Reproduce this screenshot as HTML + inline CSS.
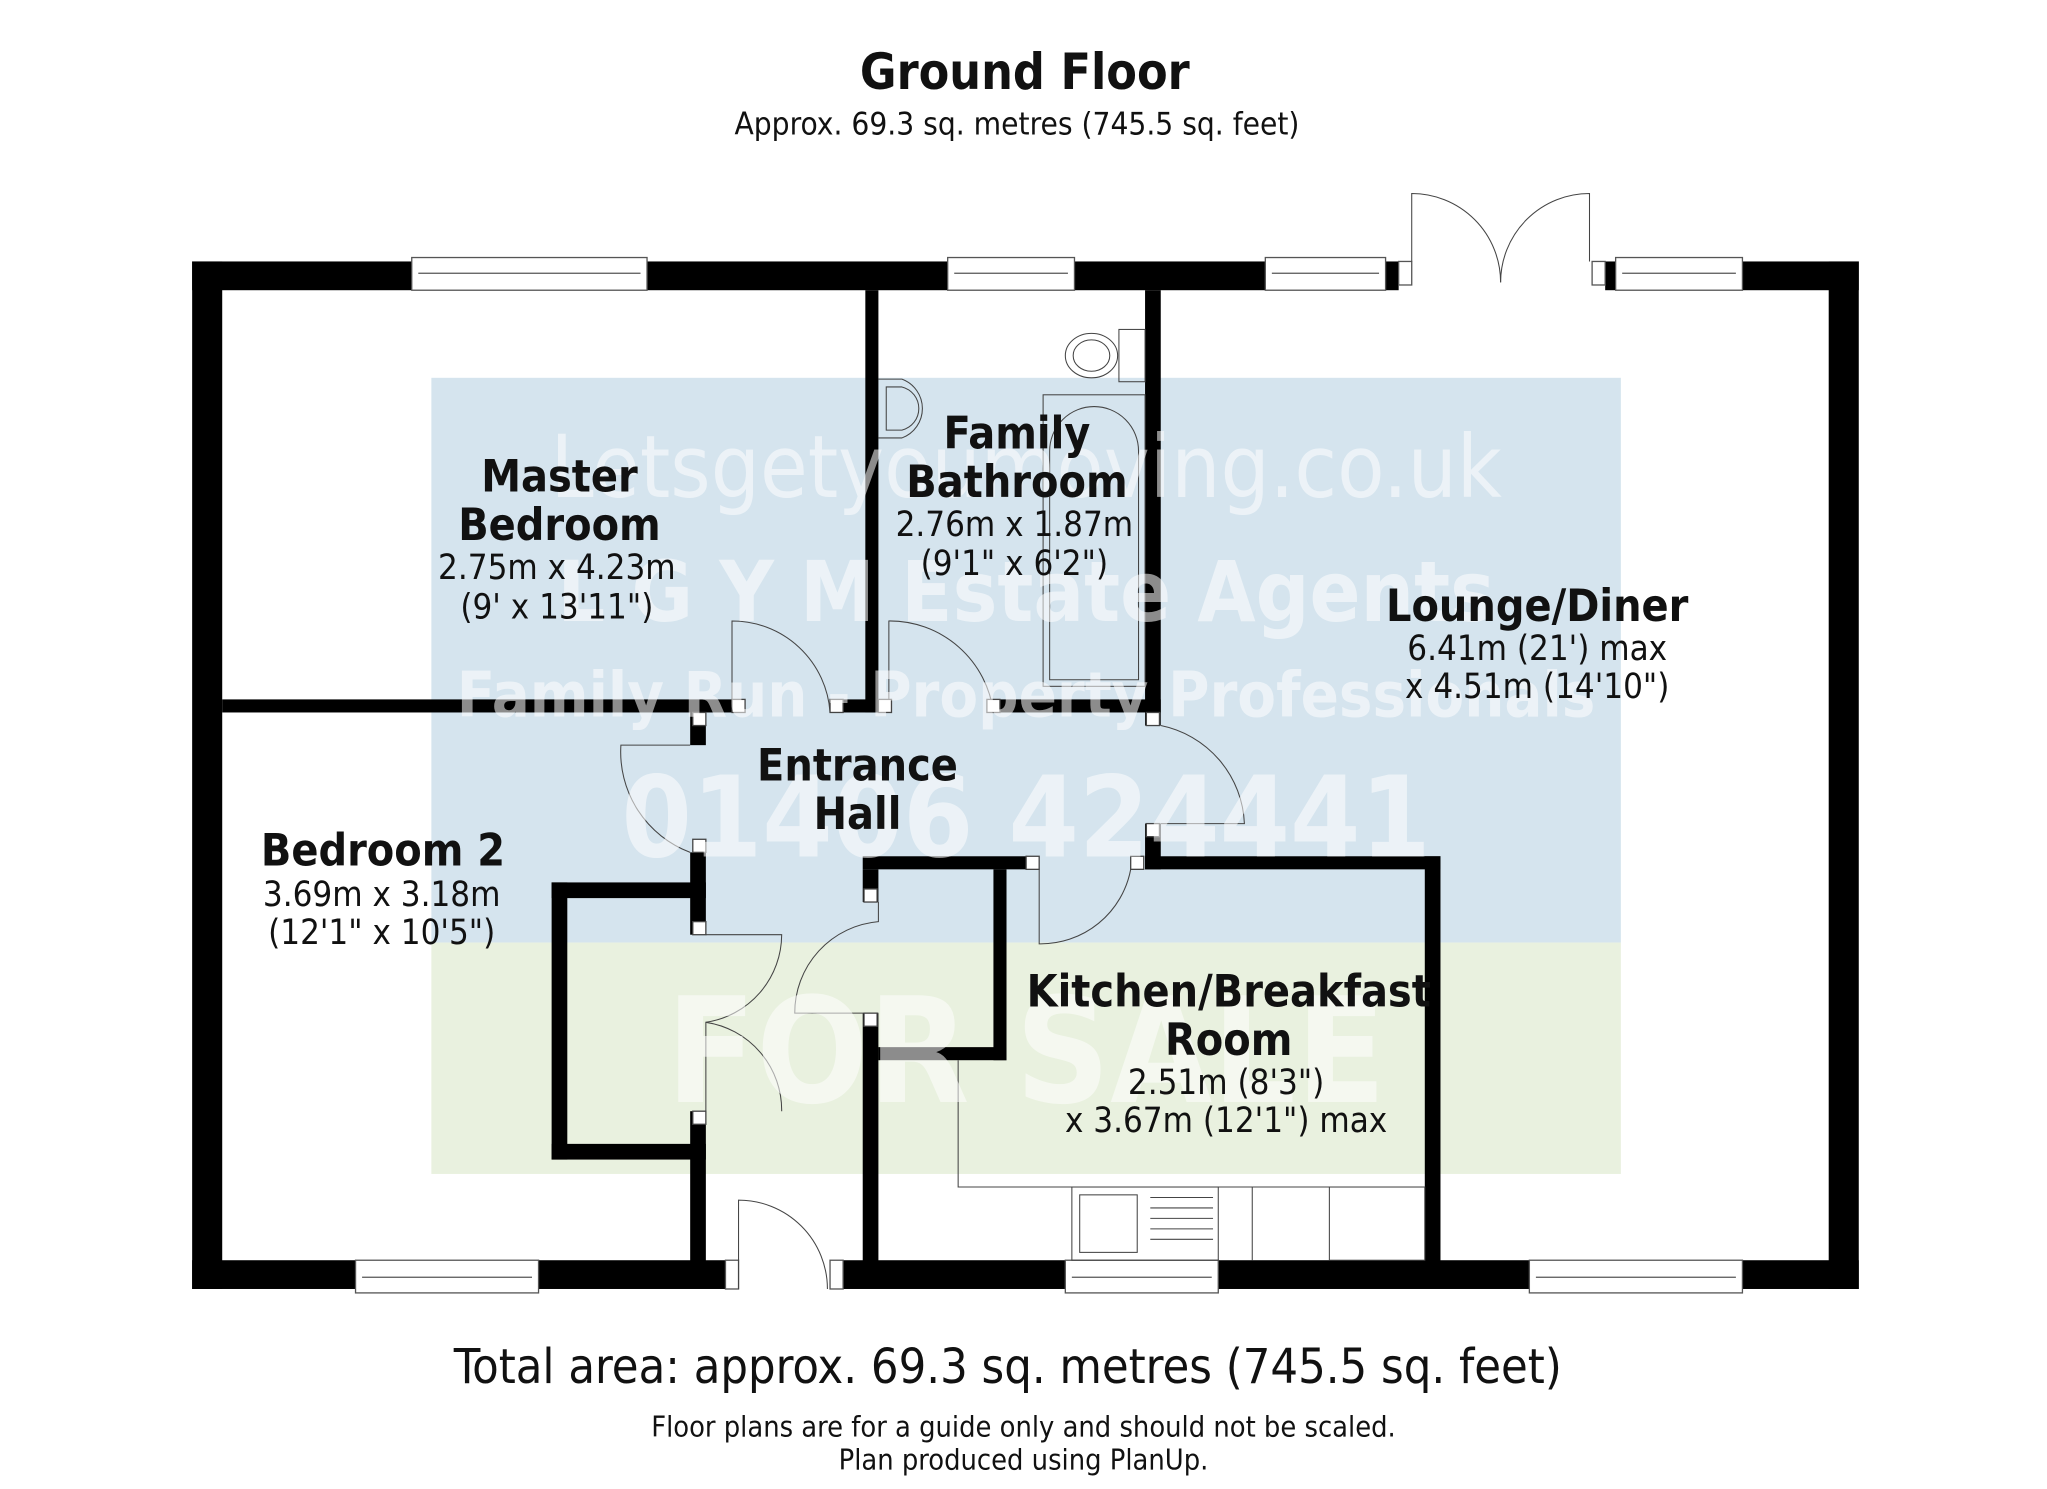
<!DOCTYPE html>
<html><head><meta charset="utf-8"><style>
html,body{margin:0;padding:0;background:#fff;width:2047px;height:1489px;overflow:hidden}
svg{display:block}
text{font-family:"DejaVu Sans Condensed","DejaVu Sans","Liberation Sans",sans-serif;fill:#111}
.b{font-weight:bold}
.wm{fill:#fff;font-weight:bold}
</style></head><body>
<svg width="2047" height="1489" viewBox="0 0 1566 1139" preserveAspectRatio="none" xmlns="http://www.w3.org/2000/svg">
<rect x="330" y="289" width="910" height="432" fill="#d5e4ee"/>
<rect x="330" y="721" width="910" height="177" fill="#e9f1df"/>

<g fill="#000">
<rect x="147" y="200" width="23" height="786"/>
<rect x="1399" y="200" width="23" height="786"/>
<rect x="147" y="200" width="923" height="22"/>
<rect x="1228" y="200" width="194" height="22"/>
<rect x="147" y="964" width="408" height="22"/>
<rect x="645" y="964" width="777" height="22"/>
<rect x="662" y="222" width="10" height="323"/>
<rect x="876" y="222" width="12" height="323"/>
<rect x="170" y="535" width="390" height="10"/>
<rect x="645" y="535" width="27" height="10"/>
<rect x="765" y="535" width="123" height="10"/>
<rect x="876" y="545" width="12" height="10"/>
<rect x="876" y="630" width="12" height="35"/>
<rect x="660" y="655" width="135" height="10"/>
<rect x="876" y="655" width="226" height="10"/>
<rect x="1090" y="655" width="12" height="310"/>
<rect x="528" y="545" width="12" height="25"/>
<rect x="528" y="652" width="12" height="63"/>
<rect x="528" y="850" width="12" height="115"/>
<rect x="422" y="675" width="118" height="12"/>
<rect x="422" y="675" width="12" height="212"/>
<rect x="422" y="875" width="118" height="12"/>
<rect x="660" y="665" width="12" height="25"/>
<rect x="660" y="775" width="12" height="190"/>
<rect x="760" y="665" width="10" height="146"/>
<rect x="672" y="801" width="98" height="10"/>
</g>

<g fill="#fff" stroke="#555" stroke-width="1">
<rect x="315" y="197" width="180" height="25"/><line x1="320" y1="209" x2="490" y2="209"/>
<rect x="725" y="197" width="97" height="25"/><line x1="730" y1="209" x2="817" y2="209"/>
<rect x="968" y="197" width="92" height="25"/><line x1="973" y1="209" x2="1055" y2="209"/>
<rect x="1236" y="197" width="97" height="25"/><line x1="1241" y1="209" x2="1328" y2="209"/>
<rect x="272" y="964" width="140" height="25"/><line x1="277" y1="977" x2="407" y2="977"/>
<rect x="815" y="964" width="117" height="25"/><line x1="820" y1="977" x2="927" y2="977"/>
<rect x="1170" y="964" width="163" height="25"/><line x1="1175" y1="977" x2="1328" y2="977"/>
<rect x="1070" y="200" width="10" height="18"/><rect x="1218" y="200" width="10" height="18"/>
<rect x="555" y="964" width="10" height="22"/><rect x="635" y="964" width="10" height="22"/>
</g>

<g fill="none" stroke="#444" stroke-width="0.8">
<path d="M1080 200 V148 A68 68 0 0 1 1148 216"/>
<path d="M1216 200 V148 A68 68 0 0 0 1148 216"/>
<path d="M565 986 V918 A68 68 0 0 1 633 986" />
<path d="M560 545 V475 A75 75 0 0 1 635 545"/>
<path d="M680 545 V475 A80 80 0 0 1 760 545"/>
<path d="M888 555 A80 80 0 0 1 952 630 H888"/>
<path d="M528 570 H475 A82 82 0 0 0 528 652"/>
<path d="M540 715 H598 A68 68 0 0 1 540 782"/>
<path d="M540 850 V782 A68 68 0 0 1 598 850"/>
<path d="M672 690 V705 A70 70 0 0 0 608 775 H672"/>
<path d="M795 665 V722 A70 70 0 0 0 865 665"/>
<path d="M733 811 V908 H1090"/>
<rect x="820" y="908" width="112" height="56"/>
<rect x="826" y="914" width="44" height="44"/>
<line x1="880" y1="916" x2="928" y2="916"/><line x1="880" y1="924" x2="928" y2="924"/><line x1="880" y1="932" x2="928" y2="932"/><line x1="880" y1="940" x2="928" y2="940"/><line x1="880" y1="948" x2="928" y2="948"/>
<line x1="958" y1="908" x2="958" y2="964"/>
<rect x="1017" y="908" width="73" height="56"/>
<rect x="856" y="252" width="20" height="40"/>
<ellipse cx="835" cy="272" rx="20" ry="17"/><ellipse cx="835" cy="272" rx="14" ry="12"/>
<path d="M672 290 H690 A24 24 0 0 1 690 335 H672"/>
<path d="M678 296 H690 A17 17 0 0 1 690 329 H678 Z"/>
<rect x="798" y="302" width="78" height="223"/>
<path d="M803 520 V345 A34 34 0 0 1 871 345 V520 Z"/>
</g>
<g stroke="#444" stroke-width="1" fill="#fff">
<rect x="530" y="545" width="10" height="10"/><rect x="530" y="642" width="10" height="10"/>
<rect x="530" y="705" width="10" height="10"/><rect x="530" y="850" width="10" height="10"/>
<rect x="560" y="535" width="10" height="10"/><rect x="635" y="535" width="10" height="10"/>
<rect x="672" y="535" width="10" height="10"/><rect x="755" y="535" width="10" height="10"/>
<rect x="877" y="545" width="10" height="10"/><rect x="877" y="630" width="10" height="10"/>
<rect x="661" y="680" width="10" height="10"/><rect x="661" y="775" width="10" height="10"/>
<rect x="785" y="655" width="10" height="10"/><rect x="865" y="655" width="10" height="10"/>
</g>

<g opacity="0.55">
<text x="785" y="380" font-size="66" text-anchor="middle" style="fill:#fff">Letsgetyoumoving.co.uk</text>
<text class="wm" x="785" y="475" font-size="64" text-anchor="middle">L G Y M Estate Agents</text>
<text class="wm" x="785" y="548" font-size="48" text-anchor="middle">Family Run - Property Professionals</text>
<text class="wm" x="785" y="655" font-size="86" text-anchor="middle">01406 424441</text>
<text class="wm" x="785" y="843" font-size="112" text-anchor="middle">FOR SALE</text>
</g>

<text class="b" x="784" y="68" font-size="38" text-anchor="middle">Ground Floor</text>
<text x="778" y="103" font-size="24" text-anchor="middle">Approx. 69.3 sq. metres (745.5 sq. feet)</text>

<text class="b" x="428" y="376" font-size="34" text-anchor="middle">Master</text>
<text class="b" x="428" y="413" font-size="34" text-anchor="middle">Bedroom</text>
<text x="426" y="443" font-size="26.5" text-anchor="middle">2.75m x 4.23m</text>
<text x="426" y="473" font-size="26.5" text-anchor="middle">(9' x 13'11")</text>

<text class="b" x="778" y="343" font-size="34" text-anchor="middle">Family</text>
<text class="b" x="778" y="380" font-size="34" text-anchor="middle">Bathroom</text>
<text x="776" y="410" font-size="26.5" text-anchor="middle">2.76m x 1.87m</text>
<text x="776" y="440" font-size="26.5" text-anchor="middle">(9'1" x 6'2")</text>

<text class="b" x="1176" y="475" font-size="34" text-anchor="middle">Lounge/Diner</text>
<text x="1176" y="505" font-size="26.5" text-anchor="middle">6.41m (21') max</text>
<text x="1176" y="534" font-size="26.5" text-anchor="middle">x 4.51m (14'10")</text>

<text class="b" x="656" y="597" font-size="34" text-anchor="middle">Entrance</text>
<text class="b" x="656" y="634" font-size="34" text-anchor="middle">Hall</text>

<text class="b" x="293" y="662" font-size="34" text-anchor="middle">Bedroom 2</text>
<text x="292" y="693" font-size="26.5" text-anchor="middle">3.69m x 3.18m</text>
<text x="292" y="722" font-size="26.5" text-anchor="middle">(12'1" x 10'5")</text>

<text class="b" x="940" y="770" font-size="34" text-anchor="middle">Kitchen/Breakfast</text>
<text class="b" x="940" y="807" font-size="34" text-anchor="middle">Room</text>
<text x="938" y="837" font-size="26.5" text-anchor="middle">2.51m (8'3")</text>
<text x="938" y="866" font-size="26.5" text-anchor="middle">x 3.67m (12'1") max</text>

<text x="771" y="1058" font-size="37" text-anchor="middle">Total area: approx. 69.3 sq. metres (745.5 sq. feet)</text>
<text x="783" y="1099" font-size="22" text-anchor="middle">Floor plans are for a guide only and should not be scaled.</text>
<text x="783" y="1124" font-size="22" text-anchor="middle">Plan produced using PlanUp.</text>
</svg>
</body></html>
